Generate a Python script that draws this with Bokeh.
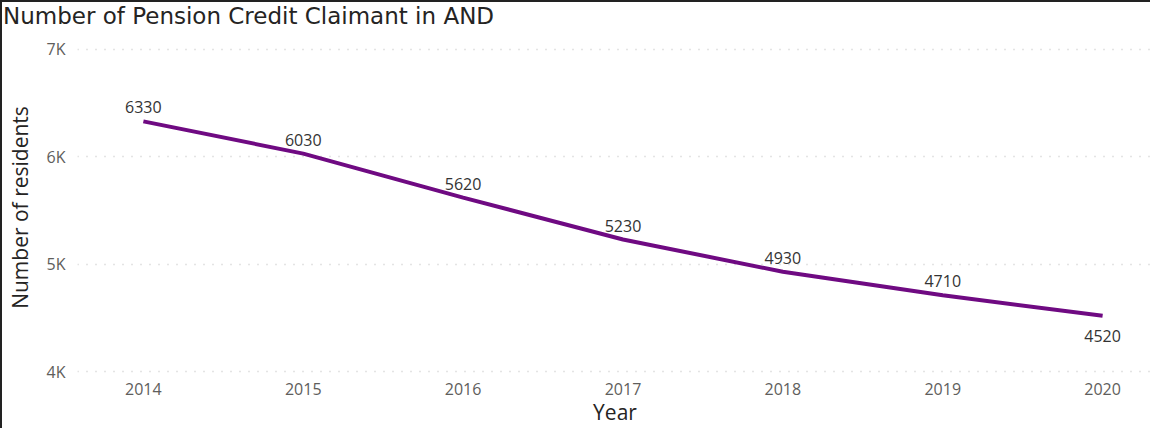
from bokeh.plotting import figure
from bokeh.models import FixedTicker, Range1d, ColumnDataSource, Div, Column
from bokeh.core.properties import value
from bokeh.embed import file_html
from bokeh.resources import INLINE

years = [2014, 2015, 2016, 2017, 2018, 2019, 2020]
claimants = [6330, 6030, 5620, 5230, 4930, 4710, 4520]
label_below = [False, False, False, False, False, False, True]
y_ticks = [4000, 5000, 6000, 7000]
y_tick_labels = ["4K", "5K", "6K", "7K"]

title_text = "Number of Pension Credit Claimant in AND"
x_title = "Year"
y_title = "Number of residents"

X0, X1 = 2013.588, 2020.312
Y0, Y1 = 3945, 7111

title_div = Div(text=title_text, width=1150, height=30, margin=0,
                styles={"border-top": "2px solid #222", "border-left": "2px solid #222",
                        "box-sizing": "border-box", "font-family": "DejaVu Sans",
                        "font-size": "23px", "line-height": "27px", "color": "#252423",
                        "padding-left": "1px", "padding-top": "1px", "white-space": "nowrap",
                        "background": "white"})

p = figure(title=None, width=1150, height=398, output_backend="svg", toolbar_location=None,
           x_range=Range1d(X0, X1), y_range=Range1d(Y0, Y1),
           min_border_left=72, min_border_right=0, min_border_top=7, min_border_bottom=48)

p.styles = {"border-left": "2px solid #222", "box-sizing": "border-box"}

p.outline_line_color = None
p.background_fill_color = "white"
p.border_fill_color = "white"

line_color = "#6F0A82"
p.line(years, claimants, line_color=line_color, line_width=4)

src_above = ColumnDataSource(dict(x=[x for x, b in zip(years, label_below) if not b],
                                  y=[y for y, b in zip(claimants, label_below) if not b],
                                  t=[str(y) for y, b in zip(claimants, label_below) if not b]))
src_below = ColumnDataSource(dict(x=[x for x, b in zip(years, label_below) if b],
                                  y=[y for y, b in zip(claimants, label_below) if b],
                                  t=[str(y) for y, b in zip(claimants, label_below) if b]))
common = dict(text="t", text_font=value("Open Sans"), text_font_size="16px",
              text_color="#333333", text_align="center")
p.text(x="x", y="y", source=src_above, text_baseline="bottom", y_offset=-8, **common)
p.text(x="x", y="y", source=src_below, text_baseline="top", y_offset=14, **common)

# grid
p.xgrid.grid_line_color = None
p.ygrid.grid_line_color = "#C8C8C8"
p.ygrid.grid_line_dash = "1 8"
p.ygrid.grid_line_width = 1.5
p.ygrid.ticker = FixedTicker(ticks=y_ticks)

# axes
p.yaxis.ticker = FixedTicker(ticks=y_ticks)
p.yaxis.major_label_overrides = {t: l for t, l in zip(y_ticks, y_tick_labels)}
p.xaxis.ticker = FixedTicker(ticks=years)
p.xaxis.major_label_overrides = {y: str(y) for y in years}
for ax in (p.xaxis[0], p.yaxis[0]):
    ax.axis_line_color = None
    ax.major_tick_line_color = None
    ax.minor_tick_line_color = None
    ax.major_tick_out = 0
    ax.major_tick_in = 0
    ax.minor_tick_out = 0
    ax.minor_tick_in = 0
    ax.major_label_text_font = "Open Sans"
    ax.major_label_text_font_size = "16px"
    ax.major_label_text_color = "#605E5C"
    ax.axis_label_text_font = "Open Sans"
    ax.axis_label_text_font_size = "21px"
    ax.axis_label_text_font_style = "normal"
    ax.axis_label_text_color = "#252423"

p.xaxis.axis_label = x_title
p.yaxis.axis_label = y_title
p.xaxis.major_label_standoff = 5
p.xaxis.axis_label_standoff = 0
p.yaxis.major_label_standoff = 12
p.yaxis.axis_label_standoff = 10

layout = Column(children=[title_div, p], spacing=0)

open("out.html", "w").write(file_html(layout, INLINE))
